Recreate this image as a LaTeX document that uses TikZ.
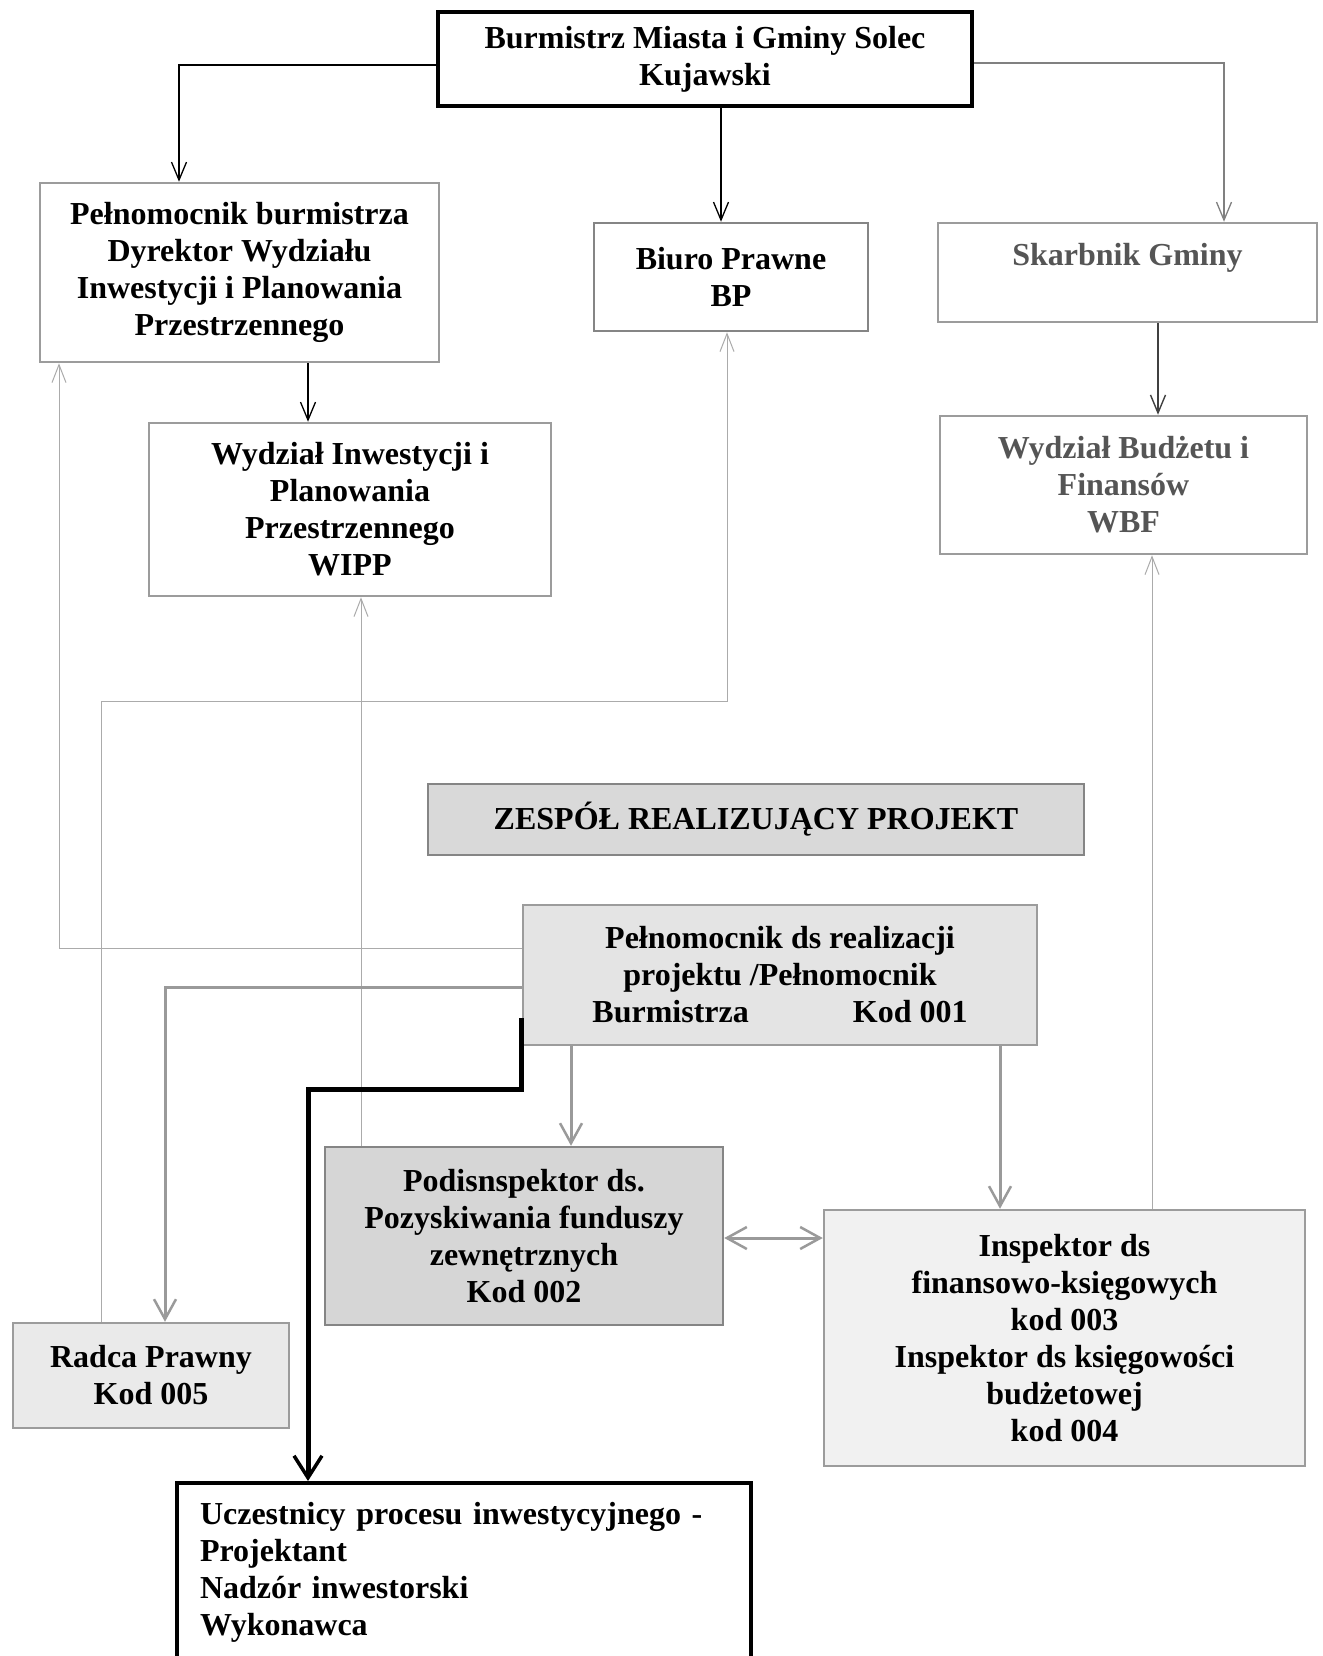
\documentclass[tikz,border=0pt]{standalone}
\usepackage{fontspec}
\setmainfont{Liberation Serif}
\usetikzlibrary{arrows.meta}
\definecolor{bordergray}{HTML}{9C9C9C}
\definecolor{borderdark}{HTML}{858585}
\definecolor{fbgray}{HTML}{ABABAB}
\definecolor{midgray}{HTML}{9A9A9A}
\definecolor{txtgray}{HTML}{555555}
\definecolor{fillA}{HTML}{D9D9D9}
\definecolor{fillB}{HTML}{E4E4E4}
\definecolor{fillC}{HTML}{D6D6D6}
\definecolor{fillD}{HTML}{F1F1F1}
\definecolor{fillE}{HTML}{EAEAEA}
\begin{document}
\begin{tikzpicture}[x=1pt,y=-1pt,
  every node/.style={font=\bfseries\fontsize{32}{37}\selectfont, align=center, inner sep=0pt, rectangle},
  graybox/.style={draw=bordergray, line width=2.5pt},
  blackbox/.style={draw=black, line width=4pt},
  blk/.style={draw=black, line width=1.3pt, -{Straight Barb[length=18pt,width=15pt,line width=1.3pt]}},
  grl/.style={draw=gray, line width=1.3pt, -{Straight Barb[length=18pt,width=15pt,line width=1.3pt]}},
  dgr/.style={draw=darkgray, line width=1.4pt, -{Straight Barb[length=18pt,width=15pt,line width=1.4pt]}},
  fb/.style={draw=fbgray, line width=1pt, -{Straight Barb[length=18pt,width=14pt,line width=1pt]}},
  mg/.style={draw=midgray, line width=3pt, -{Straight Barb[length=20pt,width=22pt,line width=2.5pt]}},
  mgboth/.style={draw=midgray, line width=3pt, {Straight Barb[length=20pt,width=22pt,line width=2.5pt]}-{Straight Barb[length=20pt,width=22pt,line width=2.5pt]}},
  thk/.style={draw=black, line width=5pt, -{Straight Barb[length=22pt,width=28pt,line width=3.5pt]}}
]
\useasboundingbox[fill=white] (0,0) rectangle (1322,1656);

% nodes
\node[blackbox, minimum width=534pt, minimum height=94pt] (top) at (705,59)
  {Burmistrz Miasta i Gminy Solec\\Kujawski};
\node[graybox, minimum width=399pt, minimum height=179pt] (pb) at (239.5,272.5)
  {Pełnomocnik burmistrza\\Dyrektor Wydziału\\Inwestycji i Planowania\\Przestrzennego};
\node[graybox, draw=borderdark, minimum width=274pt, minimum height=108pt] (biuro) at (731,277)
  {Biuro Prawne\\BP};
\node[graybox, minimum width=379pt, minimum height=99pt, text=txtgray] (skarb) at (1127.5,272.5)
  {Skarbnik Gminy\\\phantom{X}};
\node[graybox, minimum width=402pt, minimum height=173pt] (wipp) at (350,509.5)
  {Wydział Inwestycji i\\Planowania\\Przestrzennego\\WIPP};
\node[graybox, minimum width=367pt, minimum height=138pt, text=txtgray] (wbf) at (1123.5,485)
  {Wydział Budżetu i\\Finansów\\WBF};
\node[graybox, draw=borderdark, fill=fillA, minimum width=656pt, minimum height=71pt] (zesp) at (756,819.5)
  {ZESPÓŁ REALIZUJĄCY PROJEKT};
\node[graybox, fill=fillB, minimum width=514pt, minimum height=140pt] (pds) at (780,975)
  {Pełnomocnik ds realizacji\\projektu /Pełnomocnik\\Burmistrza\hspace{104pt}Kod 001};
\node[graybox, draw=borderdark, fill=fillC, minimum width=398pt, minimum height=178pt] (podi) at (524,1236)
  {Podisnspektor ds.\\Pozyskiwania funduszy\\zewnętrznych\\Kod 002};
\node[graybox, fill=fillD, minimum width=481pt, minimum height=256pt] (insp) at (1064.5,1338)
  {Inspektor ds\\finansowo-księgowych\\kod 003\\Inspektor ds księgowości\\budżetowej\\kod 004};
\node[graybox, fill=fillE, minimum width=276pt, minimum height=105pt] (radca) at (151,1375.5)
  {Radca Prawny\\Kod 005};
\node[blackbox, minimum height=178pt, inner xsep=23pt, text width=528pt, align=left] (ucz) at (464,1572)
  {Uczestnicy procesu inwestycyjnego -\\Projektant\\Nadzór inwestorski\\Wykonawca};

% connectors from the top
\draw[blk] ([yshift=-6pt]top.west) -| ([xshift=-60.5pt]pb.north);
\draw[grl] ([yshift=-4pt]top.east) -| ([xshift=96.5pt]skarb.north);
\draw[blk] ([xshift=-10pt]biuro.north |- top.south) -- ([xshift=-10pt]biuro.north);
\draw[blk] ([xshift=68.5pt]pb.south) -- ([xshift=68.5pt]pb.south |- wipp.north);
\draw[dgr] ([xshift=30.5pt]skarb.south) -- ([xshift=30.5pt]skarb.south |- wbf.north);

% feedback lines
\draw[fb] ([xshift=-50pt]radca.north) -- ++(0,-620) -| ([xshift=-4pt]biuro.south);
\draw[fb] ([yshift=27pt]pds.west) -| ([xshift=-180.5pt]pb.south);
\draw[fb] ([xshift=-163pt]podi.north) -- ([xshift=-163pt]podi.north |- wipp.south);
\draw[fb] ([xshift=87.5pt]insp.north) -- ([xshift=87.5pt]insp.north |- wbf.south);

% team connectors
\draw[mg] ([yshift=-12pt]pds.west) -| ([xshift=14pt]radca.north);
\draw[mg] ([xshift=-209pt]pds.south) -- ([xshift=-209pt]pds.south |- podi.north);
\draw[mg] ([xshift=220pt]pds.south) -- ([xshift=220pt]pds.south |- insp.north);
\draw[mgboth] ([yshift=-2pt]podi.east) -- ([yshift=-2pt]podi.east -| insp.west);
\draw[thk] ([yshift=-43pt]pds.west) -- ++(0,71) -| ([xshift=-156pt]ucz.north);
\end{tikzpicture}
\end{document}
